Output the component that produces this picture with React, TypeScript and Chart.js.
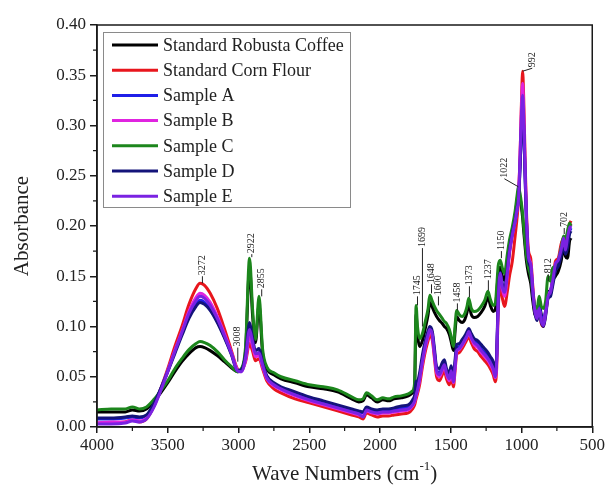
import React, { useEffect, useRef } from 'react';
import { Chart, registerables } from 'chart.js';

Chart.register(...registerables);

// Wave numbers (cm-1), shared x grid for all spectra
const wavenumbers = [
  4000, 3900, 3800, 3750, 3700, 3650, 3600, 3550, 3500, 3450,
  3400, 3350, 3300, 3272, 3240, 3200, 3150, 3100, 3050, 3008,
  2980, 2950, 2922, 2900, 2880, 2855, 2830, 2800, 2750, 2700,
  2600, 2500, 2400, 2300, 2200, 2150, 2120, 2095, 2060, 2020,
  1980, 1940, 1900, 1850, 1800, 1770, 1755, 1745, 1735, 1720,
  1700, 1680, 1660, 1648, 1630, 1615, 1600, 1580, 1560, 1545,
  1530, 1510, 1497, 1481, 1470, 1458, 1440, 1420, 1400, 1385,
  1373, 1355, 1335, 1310, 1285, 1260, 1237, 1220, 1200, 1185,
  1175, 1165, 1150, 1135, 1120, 1100, 1085, 1065, 1045, 1030,
  1022, 1010, 1000, 992, 985, 975, 965, 950, 935, 920,
  905, 890, 875, 860, 845, 830, 812, 795, 780, 760,
  740, 720, 702, 690, 675, 660, 650,
];

const robustaCoffee = [
  0.015, 0.015, 0.015, 0.017, 0.016, 0.018, 0.025, 0.034, 0.044, 0.055,
  0.065, 0.073, 0.079, 0.080, 0.079, 0.076, 0.071, 0.065, 0.059, 0.055,
  0.057, 0.076, 0.158, 0.110, 0.084, 0.122, 0.074, 0.058, 0.052, 0.048,
  0.044, 0.040, 0.038, 0.035, 0.028, 0.025, 0.026, 0.032, 0.029, 0.025,
  0.027, 0.026, 0.028, 0.029, 0.031, 0.034, 0.042, 0.112, 0.092, 0.080,
  0.086, 0.098, 0.112, 0.124, 0.119, 0.114, 0.110, 0.106, 0.103, 0.100,
  0.098, 0.092, 0.085, 0.076, 0.094, 0.110, 0.106, 0.104, 0.107, 0.114,
  0.122, 0.112, 0.109, 0.110, 0.114, 0.120, 0.129, 0.121, 0.115, 0.117,
  0.133, 0.152, 0.159, 0.150, 0.146, 0.165, 0.180, 0.193, 0.210, 0.227,
  0.234, 0.228, 0.218, 0.208, 0.196, 0.180, 0.165, 0.152, 0.143, 0.125,
  0.112, 0.110, 0.122, 0.112, 0.105, 0.115, 0.135, 0.132, 0.145, 0.150,
  0.155, 0.165, 0.180, 0.170, 0.168, 0.185, 0.188,
];

const cornFlour = [
  0.004, 0.004, 0.005, 0.007, 0.005, 0.008, 0.020, 0.038, 0.058, 0.080,
  0.100, 0.122, 0.138, 0.143, 0.141, 0.133, 0.118, 0.098, 0.076, 0.058,
  0.056, 0.065, 0.083, 0.075, 0.066, 0.068, 0.058, 0.046, 0.038, 0.034,
  0.028, 0.024, 0.020, 0.016, 0.012, 0.010, 0.008, 0.014, 0.012, 0.010,
  0.011, 0.011, 0.012, 0.013, 0.014, 0.018, 0.022, 0.028, 0.033, 0.042,
  0.060, 0.075, 0.086, 0.092, 0.086, 0.068, 0.050, 0.046, 0.052, 0.056,
  0.048, 0.042, 0.050, 0.040, 0.055, 0.072, 0.074, 0.078, 0.083, 0.087,
  0.090, 0.084, 0.078, 0.075, 0.070, 0.066, 0.062, 0.058, 0.052, 0.045,
  0.060, 0.115, 0.140, 0.128, 0.120, 0.135, 0.150, 0.165, 0.190, 0.210,
  0.225, 0.270, 0.325, 0.354, 0.330, 0.270, 0.215, 0.175, 0.168, 0.140,
  0.115, 0.108, 0.115, 0.103, 0.100, 0.112, 0.130, 0.135, 0.145, 0.165,
  0.168, 0.182, 0.188, 0.180, 0.192, 0.202, 0.205,
];

const sampleA = [
  0.008, 0.008, 0.009, 0.010, 0.009, 0.011, 0.022, 0.038, 0.056, 0.075,
  0.093, 0.110, 0.122, 0.126, 0.124, 0.117, 0.105, 0.090, 0.073, 0.057,
  0.056, 0.068, 0.093, 0.082, 0.072, 0.074, 0.062, 0.050, 0.043, 0.039,
  0.034, 0.029, 0.025, 0.021, 0.017, 0.015, 0.014, 0.019, 0.017, 0.016,
  0.017, 0.017, 0.018, 0.019, 0.020, 0.024, 0.028, 0.035, 0.040, 0.050,
  0.068, 0.082, 0.093, 0.098, 0.092, 0.074, 0.057, 0.054, 0.060, 0.064,
  0.055, 0.050, 0.058, 0.047, 0.062, 0.078, 0.080, 0.084, 0.089, 0.093,
  0.096, 0.091, 0.086, 0.083, 0.078, 0.074, 0.070, 0.066, 0.060, 0.052,
  0.070, 0.125, 0.152, 0.140, 0.135, 0.155, 0.175, 0.192, 0.205, 0.218,
  0.225, 0.260, 0.300, 0.315, 0.298, 0.250, 0.205, 0.165, 0.160, 0.135,
  0.118, 0.112, 0.120, 0.110, 0.106, 0.116, 0.132, 0.136, 0.146, 0.160,
  0.165, 0.175, 0.186, 0.178, 0.185, 0.195, 0.198,
];

const sampleB = [
  0.004, 0.005, 0.005, 0.007, 0.006, 0.009, 0.020, 0.037, 0.056, 0.076,
  0.095, 0.115, 0.129, 0.133, 0.131, 0.124, 0.110, 0.093, 0.074, 0.057,
  0.055, 0.066, 0.090, 0.080, 0.070, 0.071, 0.060, 0.048, 0.041, 0.037,
  0.031, 0.026, 0.022, 0.018, 0.014, 0.012, 0.011, 0.016, 0.014, 0.013,
  0.014, 0.014, 0.015, 0.016, 0.017, 0.021, 0.025, 0.031, 0.036, 0.046,
  0.064, 0.079, 0.090, 0.096, 0.090, 0.071, 0.054, 0.050, 0.056, 0.060,
  0.052, 0.046, 0.054, 0.044, 0.058, 0.075, 0.077, 0.081, 0.086, 0.090,
  0.093, 0.088, 0.082, 0.079, 0.074, 0.070, 0.066, 0.062, 0.056, 0.049,
  0.066, 0.122, 0.150, 0.137, 0.130, 0.150, 0.172, 0.190, 0.204, 0.217,
  0.225, 0.272, 0.320, 0.342, 0.318, 0.262, 0.210, 0.170, 0.163, 0.137,
  0.116, 0.110, 0.117, 0.106, 0.103, 0.114, 0.131, 0.135, 0.145, 0.162,
  0.166, 0.178, 0.187, 0.178, 0.188, 0.198, 0.202,
];

const sampleC = [
  0.017, 0.018, 0.018, 0.020, 0.018, 0.020, 0.027, 0.036, 0.046, 0.058,
  0.068, 0.077, 0.083, 0.085, 0.084, 0.081, 0.075, 0.067, 0.060, 0.055,
  0.058, 0.080, 0.168, 0.116, 0.087, 0.130, 0.078, 0.060, 0.054, 0.050,
  0.046, 0.042, 0.040, 0.037, 0.030, 0.027, 0.028, 0.034, 0.031, 0.027,
  0.029, 0.028, 0.030, 0.031, 0.033, 0.036, 0.045, 0.121, 0.100, 0.088,
  0.093, 0.105, 0.118, 0.131, 0.125, 0.120, 0.116, 0.112, 0.108, 0.105,
  0.103, 0.097, 0.090, 0.080, 0.100, 0.116, 0.112, 0.110, 0.113, 0.120,
  0.128, 0.118, 0.115, 0.116, 0.120, 0.126, 0.135, 0.127, 0.121, 0.123,
  0.140, 0.160, 0.166, 0.158, 0.153, 0.172, 0.186, 0.199, 0.215, 0.232,
  0.239, 0.232, 0.222, 0.212, 0.200, 0.185, 0.170, 0.158, 0.150, 0.132,
  0.120, 0.118, 0.130, 0.120, 0.118, 0.125, 0.150, 0.145, 0.158, 0.160,
  0.165, 0.178, 0.190, 0.186, 0.195, 0.203, 0.200,
];

const sampleD = [
  0.009, 0.009, 0.010, 0.011, 0.010, 0.012, 0.023, 0.038, 0.055, 0.073,
  0.091, 0.108, 0.120, 0.124, 0.122, 0.116, 0.104, 0.089, 0.072, 0.056,
  0.057, 0.072, 0.104, 0.088, 0.076, 0.078, 0.064, 0.051, 0.044, 0.040,
  0.035, 0.030, 0.026, 0.022, 0.018, 0.016, 0.015, 0.020, 0.018, 0.017,
  0.018, 0.018, 0.019, 0.021, 0.022, 0.027, 0.032, 0.045, 0.046, 0.054,
  0.072, 0.086, 0.096, 0.100, 0.095, 0.078, 0.060, 0.058, 0.064, 0.067,
  0.058, 0.054, 0.061, 0.050, 0.066, 0.082, 0.083, 0.087, 0.091, 0.095,
  0.098, 0.093, 0.088, 0.086, 0.082, 0.078, 0.074, 0.070, 0.065, 0.056,
  0.074, 0.128, 0.154, 0.142, 0.137, 0.157, 0.176, 0.193, 0.206, 0.219,
  0.226, 0.258, 0.300, 0.318, 0.300, 0.252, 0.205, 0.165, 0.158, 0.132,
  0.113, 0.106, 0.116, 0.104, 0.100, 0.110, 0.128, 0.130, 0.140, 0.155,
  0.160, 0.170, 0.182, 0.172, 0.178, 0.192, 0.195,
];

const sampleE = [
  0.003, 0.003, 0.004, 0.006, 0.005, 0.008, 0.019, 0.036, 0.055, 0.075,
  0.094, 0.113, 0.126, 0.130, 0.128, 0.121, 0.108, 0.091, 0.073, 0.056,
  0.055, 0.069, 0.097, 0.084, 0.073, 0.074, 0.062, 0.049, 0.042, 0.038,
  0.032, 0.027, 0.023, 0.019, 0.015, 0.013, 0.010, 0.017, 0.015, 0.014,
  0.015, 0.015, 0.016, 0.017, 0.018, 0.022, 0.026, 0.032, 0.037, 0.048,
  0.066, 0.081, 0.092, 0.097, 0.092, 0.073, 0.056, 0.052, 0.058, 0.062,
  0.054, 0.048, 0.056, 0.045, 0.060, 0.076, 0.078, 0.082, 0.087, 0.091,
  0.095, 0.089, 0.084, 0.081, 0.076, 0.072, 0.068, 0.064, 0.058, 0.050,
  0.068, 0.124, 0.153, 0.139, 0.134, 0.154, 0.174, 0.191, 0.205, 0.218,
  0.225, 0.268, 0.312, 0.330, 0.310, 0.258, 0.208, 0.168, 0.162, 0.135,
  0.115, 0.108, 0.118, 0.105, 0.101, 0.112, 0.130, 0.134, 0.145, 0.162,
  0.166, 0.176, 0.188, 0.176, 0.188, 0.198, 0.200,
];

const seriesNames = [
  'Standard Robusta Coffee',
  'Standard Corn Flour',
  'Sample A',
  'Sample B',
  'Sample C',
  'Sample D',
  'Sample E',
];
const seriesValues = [robustaCoffee, cornFlour, sampleA, sampleB, sampleC, sampleD, sampleE];
const seriesColors = ['#000000', '#e8161d', '#1f1fe8', '#e024e0', '#1c861c', '#14147a', '#7a22e2'];
// higher = drawn earlier (underneath)
const seriesDrawOrder = [7, 6, 5, 4, 3, 2, 1];

const xTickValues = [4000, 3500, 3000, 2500, 2000, 1500, 1000, 500];
const yTickValues = [0, 0.05, 0.1, 0.15, 0.2, 0.25, 0.3, 0.35, 0.4];

// Peak labels: label text, wave number and absorbance of the text start, leader-line tip
const peakText = ['3272', '3008', '2922', '2855', '1745', '1699', '1648', '1600', '1458', '1373', '1237', '1150', '1022', '992', '812', '702'];
const peakTextWn = [3255, 3005, 2906, 2836, 1735, 1700, 1636, 1587, 1453, 1368, 1234, 1142, 1121, 924, 811, 698];
const peakTextAbs = [0.151, 0.080, 0.173, 0.138, 0.131, 0.179, 0.143, 0.131, 0.124, 0.141, 0.147, 0.176, 0.248, 0.358, 0.153, 0.199];
const peakTipWn = [3255, 3005, 2906, 2836, 1735, 1700, 1636, 1587, 1453, 1368, 1234, 1142, 1022, 992, 811, 698];
const peakTipAbs = [0.143, 0.065, 0.169, 0.130, 0.121, 0.100, 0.133, 0.121, 0.116, 0.129, 0.136, 0.168, 0.239, 0.354, 0.145, 0.192];

const SERIF = '"Liberation Serif", "Times New Roman", serif';

const decorPlugin = {
  id: 'decor',
  afterDatasetsDraw(chart: any) {
    const { ctx, chartArea: ca, scales } = chart;
    const xs = scales.x;
    const ys = scales.y;
    ctx.save();

    // frame
    ctx.strokeStyle = '#1a1a1a';
    ctx.lineWidth = 1.5;
    ctx.strokeRect(ca.left, ca.top, ca.right - ca.left, ca.bottom - ca.top);

    // minor ticks
    ctx.lineWidth = 1.2;
    ctx.beginPath();
    for (let i = 0; i < xTickValues.length - 1; i++) {
      const v = (xTickValues[i] + xTickValues[i + 1]) / 2;
      const px = xs.getPixelForValue(v);
      ctx.moveTo(px, ca.bottom);
      ctx.lineTo(px, ca.bottom + 4);
    }
    for (let i = 0; i < yTickValues.length - 1; i++) {
      const v = (yTickValues[i] + yTickValues[i + 1]) / 2;
      const py = ys.getPixelForValue(v);
      ctx.moveTo(ca.left, py);
      ctx.lineTo(ca.left - 4, py);
    }
    ctx.stroke();

    // peak labels
    ctx.font = `10px ${SERIF}`;
    ctx.fillStyle = '#1a1a1a';
    ctx.strokeStyle = '#222';
    ctx.lineWidth = 1;
    ctx.textAlign = 'left';
    ctx.textBaseline = 'middle';
    for (let i = 0; i < peakText.length; i++) {
      const tx = xs.getPixelForValue(peakTextWn[i]);
      const ty = ys.getPixelForValue(peakTextAbs[i]);
      const lx = xs.getPixelForValue(peakTipWn[i]);
      const ly = ys.getPixelForValue(peakTipAbs[i]);
      ctx.save();
      ctx.translate(tx, ty);
      ctx.rotate(-Math.PI / 2);
      ctx.fillText(peakText[i], 0, 0);
      ctx.restore();
      ctx.beginPath();
      ctx.moveTo(tx, ty + 1);
      ctx.lineTo(lx, ly);
      ctx.stroke();
    }

    // legend
    const bx = ca.left + 6;
    const by = ca.top + 7;
    const bw = 247;
    const bh = 175;
    ctx.fillStyle = '#ffffff';
    ctx.fillRect(bx, by, bw, bh);
    ctx.strokeStyle = '#8a8a8a';
    ctx.lineWidth = 1;
    ctx.strokeRect(bx + 0.5, by + 0.5, bw, bh);
    ctx.font = `18px ${SERIF}`;
    ctx.textAlign = 'left';
    ctx.textBaseline = 'middle';
    for (let i = 0; i < seriesNames.length; i++) {
      const cy = by + 13 + i * 25.2;
      ctx.strokeStyle = seriesColors[i];
      ctx.lineWidth = 3;
      ctx.beginPath();
      ctx.moveTo(bx + 9, cy);
      ctx.lineTo(bx + 55, cy);
      ctx.stroke();
      ctx.fillStyle = '#222';
      ctx.fillText(seriesNames[i], bx + 60, cy + 1);
    }

    // axis titles
    ctx.fillStyle = '#222';
    ctx.font = `21px ${SERIF}`;
    ctx.textAlign = 'center';
    ctx.textBaseline = 'middle';
    ctx.save();
    ctx.translate(22, (ca.top + ca.bottom) / 2);
    ctx.rotate(-Math.PI / 2);
    ctx.fillText('Absorbance', 0, 0);
    ctx.restore();

    const main = 'Wave Numbers (cm';
    const sup = '-1';
    const close = ')';
    ctx.font = `21px ${SERIF}`;
    const w1 = ctx.measureText(main).width;
    const w3 = ctx.measureText(close).width;
    ctx.font = `13px ${SERIF}`;
    const w2 = ctx.measureText(sup).width;
    const total = w1 + w2 + w3;
    const cx = (ca.left + ca.right) / 2;
    const tyTitle = ca.bottom + 47;
    let sx = cx - total / 2;
    ctx.textAlign = 'left';
    ctx.font = `21px ${SERIF}`;
    ctx.fillText(main, sx, tyTitle);
    sx += w1;
    ctx.font = `13px ${SERIF}`;
    ctx.fillText(sup, sx, tyTitle - 7);
    sx += w2;
    ctx.font = `21px ${SERIF}`;
    ctx.fillText(close, sx, tyTitle);

    ctx.restore();
  },
};

export default function App() {
  const canvasRef = useRef<HTMLCanvasElement | null>(null);

  useEffect(() => {
    const canvas = canvasRef.current;
    if (!canvas) return;
    const datasets = seriesNames.map((name, i) => ({
      label: name,
      data: wavenumbers.map((wn, j) => ({ x: wn, y: seriesValues[i][j] })),
      borderColor: seriesColors[i],
      backgroundColor: seriesColors[i],
      borderWidth: 3,
      pointRadius: 0,
      cubicInterpolationMode: 'monotone' as const,
      order: seriesDrawOrder[i],
    }));

    const chart = new Chart(canvas, {
      type: 'line',
      data: { datasets },
      options: {
        animation: false,
        responsive: false,
        maintainAspectRatio: false,
        parsing: false as any,
        layout: { padding: { top: 25, right: 14, left: 0, bottom: 0 } },
        plugins: {
          legend: { display: false },
          tooltip: { enabled: false },
        },
        scales: {
          x: {
            type: 'linear',
            reverse: true,
            min: 500,
            max: 4000,
            afterFit: (s: any) => {
              s.height = 64;
            },
            afterBuildTicks: (s: any) => {
              s.ticks = xTickValues.map((v) => ({ value: v }));
            },
            ticks: {
              autoSkip: false,
              maxRotation: 0,
              padding: 2,
              color: '#222',
              font: { family: SERIF, size: 17 },
              callback: (v: any) => String(v),
            },
            grid: { drawOnChartArea: false, drawTicks: true, tickLength: 6, color: '#1a1a1a', lineWidth: 1.5 },
            border: { display: true, color: '#1a1a1a', width: 1.5 },
          },
          y: {
            type: 'linear',
            min: 0,
            max: 0.4,
            afterFit: (s: any) => {
              s.width = 97;
            },
            afterBuildTicks: (s: any) => {
              s.ticks = yTickValues.map((v) => ({ value: v }));
            },
            ticks: {
              autoSkip: false,
              padding: 4,
              color: '#222',
              font: { family: SERIF, size: 17 },
              callback: (v: any) => Number(v).toFixed(2),
            },
            grid: { drawOnChartArea: false, drawTicks: true, tickLength: 7, color: '#1a1a1a', lineWidth: 1.5 },
            border: { display: true, color: '#1a1a1a', width: 1.5 },
          },
        },
      },
      plugins: [decorPlugin],
    });

    return () => {
      chart.destroy();
    };
  }, []);

  return (
    <div style={{ position: 'fixed', left: 0, top: 0, width: 607, height: 491, background: '#ffffff' }}>
      <canvas ref={canvasRef} width={607} height={491} style={{ width: 607, height: 491, display: 'block' }} />
    </div>
  );
}
